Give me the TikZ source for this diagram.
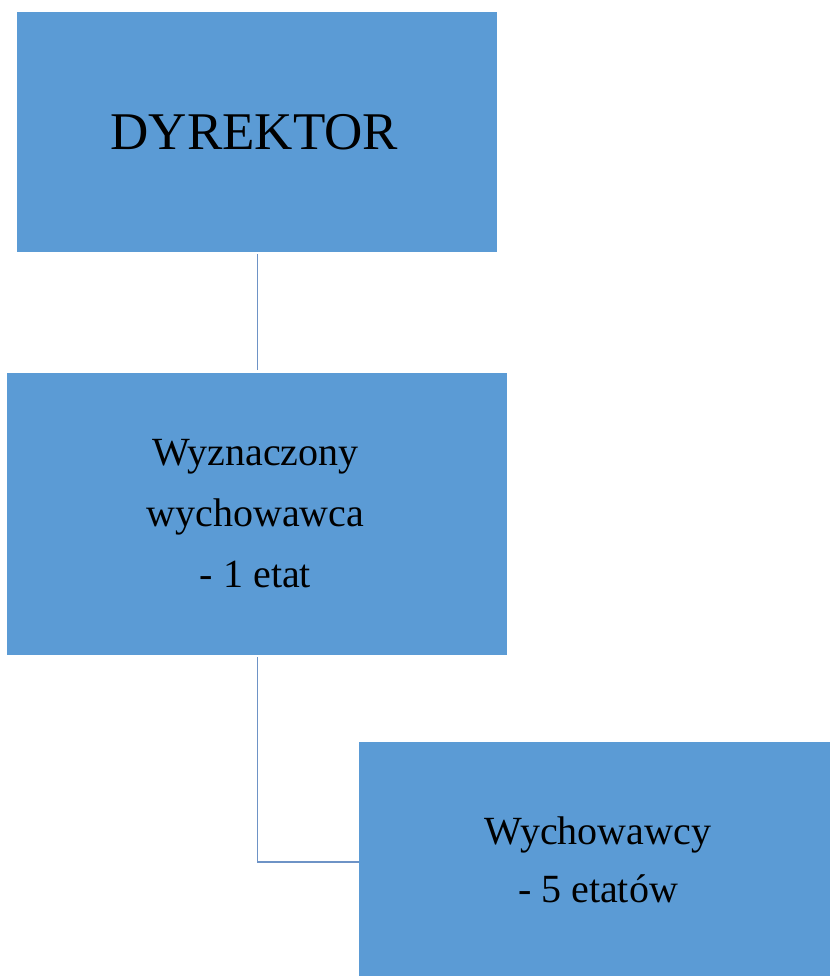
\documentclass[tikz,border=0pt]{standalone}
\usepackage{fontspec}
\setmainfont{Liberation Serif}
\definecolor{boxblue}{HTML}{5B9BD5}
\definecolor{linkblue}{HTML}{6E93C6}
\begin{document}
\begin{tikzpicture}[x=1pt,y=-1pt,
  orgbox/.style={fill=boxblue, draw=none, inner sep=0pt, anchor=north west},
  link/.style={draw=linkblue, line width=1.9pt},
  lbl/.style={align=center, font=\fontsize{40}{61}\selectfont}]
\useasboundingbox (0,0) rectangle (830,976);
\node[orgbox, minimum width=480.5pt, minimum height=240pt] (dyr) at (16.5,12) {};
\node[font=\fontsize{53}{60}\selectfont] (dyrt) at (254.5,132) {DYREKTOR};
\node[orgbox, minimum width=500pt, minimum height=282pt] (wyz) at (7,373) {};
\node[lbl] (wyzt) at (255.5,514) {Wyznaczony\\wychowawca\\- 1 etat};
\node[orgbox, minimum width=471pt, minimum height=234pt] (wych) at (359,742) {};
\node[lbl, font=\fontsize{40}{58}\selectfont] (wycht) at (598,860) {Wychowawcy\\- 5 etatów};
\coordinate (corner) at (257.5,862);
\draw[link] (257.5,254) -- (257.5,370);
\draw[link] (257.5,657) -- (corner) -- (wych.west |- corner);
\end{tikzpicture}
\end{document}
